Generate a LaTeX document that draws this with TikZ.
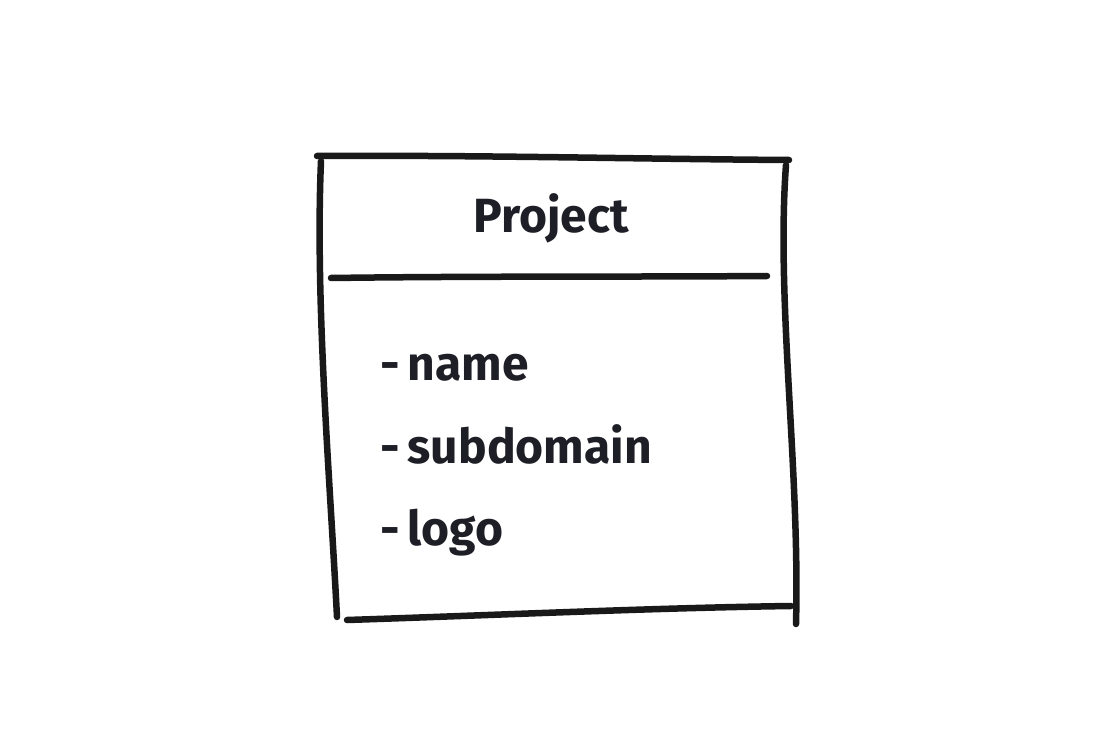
\documentclass[tikz,border=0pt]{standalone}
\usepackage{fontspec}
\setmainfont{Fira Sans}
\usetikzlibrary{positioning}
\definecolor{inkcolor}{HTML}{1E1E26}
\begin{document}
\begin{tikzpicture}[x=1pt, y=-1pt,
		strokestyle/.style={line width=6.5pt, line cap=round, line join=round, color=black!90},
		titlestyle/.style={font=\fontsize{48}{52}\selectfont\bfseries, text=inkcolor, inner sep=0pt, anchor=base},
		itemstyle/.style={font=\fontsize{48}{52}\selectfont\bfseries, text=inkcolor, inner sep=0pt, anchor=base west}]

		\useasboundingbox [fill=white] (0,0) rectangle (1096,754);

		% corners of the box
		\coordinate (tl) at (317,156);
		\coordinate (tr) at (789,160);
		\coordinate (bl) at (337,617);
		\coordinate (br) at (796,624);

		% outline, drawn by hand
		\draw [strokestyle] (tl) .. controls (480,155) and (640,159) .. (tr);
		\draw [strokestyle] (321,161) .. controls (315,300) and (330,480) .. (bl);
		\draw [strokestyle] (786,165) .. controls (776,300) and (800,470) .. (br);
		\draw [strokestyle] (347,620) .. controls (500,615) and (650,608) .. (791,606);
		\draw [strokestyle] (331,278) .. controls (480,276) and (640,277) .. (767,276);

		\node [titlestyle] (title) at (551,233) {Project};

		\node [itemstyle] (name) at (380,380) {-\hspace{8pt}name};
		\node [itemstyle] (subdomain) at (380,463) {-\hspace{8pt}subdomain};
		\node [itemstyle] (logo) at (380,545) {-\hspace{8pt}logo};
		\end{tikzpicture}
\end{document}
